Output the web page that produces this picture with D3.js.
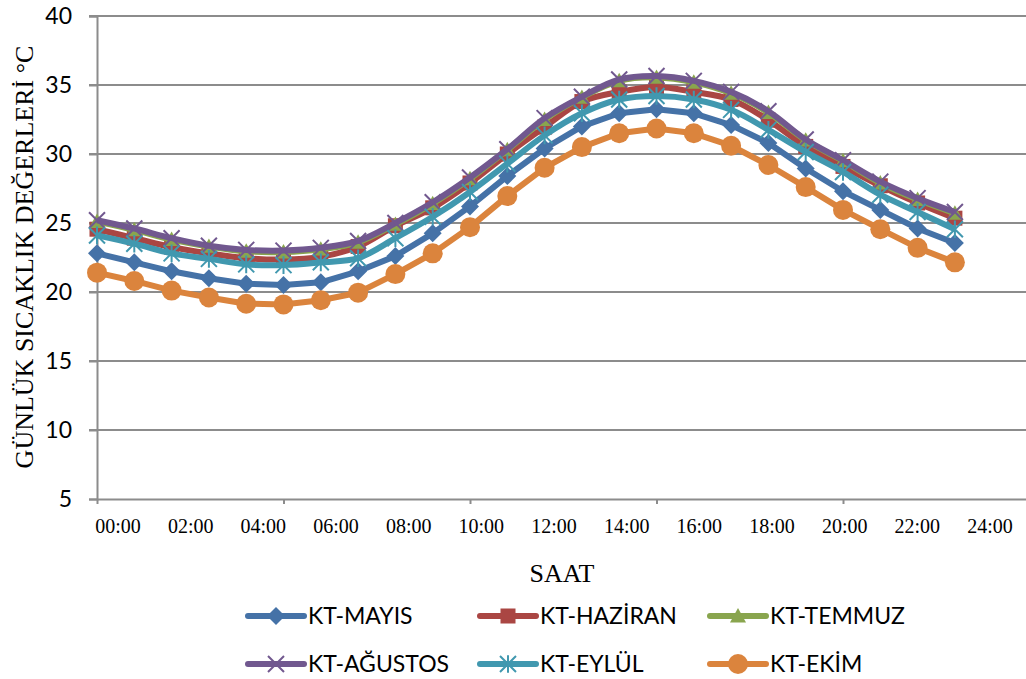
<!DOCTYPE html>
<html><head><meta charset="utf-8">
<script src="https://cdn.jsdelivr.net/npm/d3@7"></script>
<style>body{margin:0;background:#fff}svg{display:block}</style>
</head><body>
<svg id="c" width="1026" height="679"></svg>
<script>
// ---- data ----
const hours = d3.range(24); // 00:00 .. 23:00
const tickLabels = ["00:00","02:00","04:00","06:00","08:00","10:00","12:00","14:00","16:00","18:00","20:00","22:00","24:00"];
const yTicks = [5,10,15,20,25,30,35,40];
const seriesNames = ["KT-MAYIS","KT-HAZİRAN","KT-TEMMUZ","KT-AĞUSTOS","KT-EYLÜL","KT-EKİM"];
const mayis   = [22.8,22.15,21.5,21.0,20.6,20.5,20.7,21.5,22.6,24.25,26.2,28.4,30.4,32.0,32.95,33.25,32.95,32.1,30.8,28.95,27.3,25.95,24.6,23.55];
const haziran = [24.55,23.9,23.25,22.8,22.45,22.35,22.55,23.3,24.8,26.1,27.9,30.0,31.95,33.8,34.5,34.85,34.5,33.95,32.45,30.55,29.1,27.7,26.45,25.35];
const temmuz  = [25.1,24.5,23.8,23.3,22.95,22.9,23.1,23.6,24.9,26.4,28.2,30.3,32.5,34.1,35.3,35.55,35.2,34.4,33.0,31.0,29.5,27.9,26.7,25.7];
const agustos = [25.2,24.6,23.9,23.35,23.05,23.0,23.2,23.7,25.0,26.5,28.3,30.35,32.6,34.15,35.4,35.65,35.3,34.5,33.1,31.05,29.55,28.0,26.8,25.8];
const eylul   = [24.1,23.5,22.8,22.4,22.0,21.95,22.15,22.45,23.9,25.45,27.25,29.3,31.35,32.95,33.95,34.2,33.95,33.2,31.75,30.15,28.7,27.05,25.8,24.55];
const ekim    = [21.4,20.8,20.1,19.6,19.15,19.1,19.4,19.95,21.3,22.8,24.7,26.95,29.0,30.5,31.5,31.85,31.5,30.6,29.2,27.6,25.95,24.55,23.2,22.15];

const seriesValues = [mayis, haziran, temmuz, agustos, eylul, ekim];
const colors = ["#4572A7","#AA4643","#89A54E","#71588F","#4198AF","#DB843D"];
const markers = ["diamond","square","triangle","x","star","circle"];
const smooth = [false,true,true,true,true,false];

const svg = d3.select("#c");
const x = d3.scaleLinear().domain([0,25]).range([97,1029.5]);
const y = d3.scaleLinear().domain([5,40]).range([499,16]);
const xLab = d3.scalePoint().domain(tickLabels).range([118,990]);

// gridlines
svg.append("g").selectAll("line").data(yTicks.filter(d=>d>5)).join("line")
  .attr("x1",89).attr("x2",1026).attr("y1",d=>y(d)).attr("y2",d=>y(d))
  .attr("stroke","#8c8c8c").attr("stroke-width",2);

// y axis
const yAxis = svg.append("g").attr("transform","translate(97,0)")
  .call(d3.axisLeft(y).tickValues(yTicks).tickSize(8).tickPadding(17).tickFormat(d3.format("d")));
yAxis.select(".domain").attr("stroke","#8c8c8c").attr("stroke-width",2);
yAxis.selectAll(".tick line").attr("stroke","#8c8c8c").attr("stroke-width",2);
yAxis.selectAll(".tick text").attr("font-family","Lato, 'Liberation Sans', sans-serif").attr("font-size",23).attr("fill","#000");

// x axis
const xAxis = svg.append("g").attr("transform","translate(0,499)")
  .call(d3.axisBottom(x).tickValues([0,5,10,15,20,25]).tickSize(5).tickSizeOuter(0).tickFormat(""));
xAxis.select(".domain").attr("stroke","#8c8c8c").attr("stroke-width",2);
xAxis.selectAll(".tick line").attr("stroke","#8c8c8c").attr("stroke-width",2);

svg.append("g").selectAll("text").data(tickLabels).join("text")
  .attr("x",d=>xLab(d)).attr("y",533).attr("text-anchor","middle")
  .attr("font-family","'Liberation Serif','Times New Roman',serif").attr("font-size",20).attr("fill","#000")
  .text(d=>d);

// titles
svg.append("text").attr("x",562).attr("y",582).attr("text-anchor","middle")
  .attr("font-family","'Liberation Serif','Times New Roman',serif").attr("font-size",26).attr("fill","#000").text("SAAT");
svg.append("text").attr("transform","translate(33,257) rotate(-90)").attr("text-anchor","middle")
  .attr("font-family","'Liberation Serif','Times New Roman',serif").attr("font-size",26).attr("fill","#000").text("GÜNLÜK SICAKLIK DEĞERLERİ °C");

function drawMarker(g, type, cx, cy, color, s){
  s = s || 1;
  if(type==="diamond"){
    const r=9*s;
    g.append("path").attr("d",`M${cx},${cy-r}L${cx+r},${cy}L${cx},${cy+r}L${cx-r},${cy}Z`).attr("fill",color);
  } else if(type==="square"){
    const r=7.5*s;
    g.append("rect").attr("x",cx-r).attr("y",cy-r).attr("width",2*r).attr("height",2*r).attr("fill",color);
  } else if(type==="triangle"){
    const r=8*s;
    g.append("path").attr("d",`M${cx},${cy-r}L${cx+r},${cy+r*0.8}L${cx-r},${cy+r*0.8}Z`).attr("fill",color);
  } else if(type==="x"){
    const r=8*s;
    g.append("path").attr("d",`M${cx-r},${cy-r}L${cx+r},${cy+r}M${cx-r},${cy+r}L${cx+r},${cy-r}`).attr("stroke",color).attr("stroke-width",2).attr("fill","none");
  } else if(type==="star"){
    const r=8*s;
    g.append("path").attr("d",`M${cx-r},${cy-r}L${cx+r},${cy+r}M${cx-r},${cy+r}L${cx+r},${cy-r}M${cx},${cy-r*1.1}L${cx},${cy+r*1.1}`).attr("stroke",color).attr("stroke-width",2).attr("fill","none");
  } else if(type==="circle"){
    g.append("circle").attr("cx",cx).attr("cy",cy).attr("r",10*s).attr("fill",color);
  }
}

// series
seriesValues.forEach((vals,k)=>{
  const g = svg.append("g");
  const line = d3.line().x((d,i)=>x(hours[i])).y(d=>y(d))
    .curve(smooth[k] ? d3.curveCatmullRom.alpha(0.5) : d3.curveLinear);
  g.append("path").datum(vals).attr("d",line).attr("fill","none")
    .attr("stroke",colors[k]).attr("stroke-width",6).attr("stroke-linejoin","round");
  vals.forEach((v,i)=>drawMarker(g, markers[k], x(hours[i]), y(v), colors[k]));
});

// legend
const legX = [248,480,710];
const legY = [616,664];
seriesNames.forEach((name,k)=>{
  const lx = legX[k%3], ly = legY[Math.floor(k/3)];
  const g = svg.append("g");
  g.append("line").attr("x1",lx).attr("x2",lx+56).attr("y1",ly).attr("y2",ly)
    .attr("stroke",colors[k]).attr("stroke-width",6).attr("stroke-linecap","round");
  drawMarker(g, markers[k], lx+28, ly, colors[k]);
  g.append("text").attr("x",lx+60).attr("y",ly+8)
    .attr("font-family","Lato, 'Liberation Sans', sans-serif").attr("font-size",23).attr("fill","#000").text(name);
});
</script>
</body></html>
